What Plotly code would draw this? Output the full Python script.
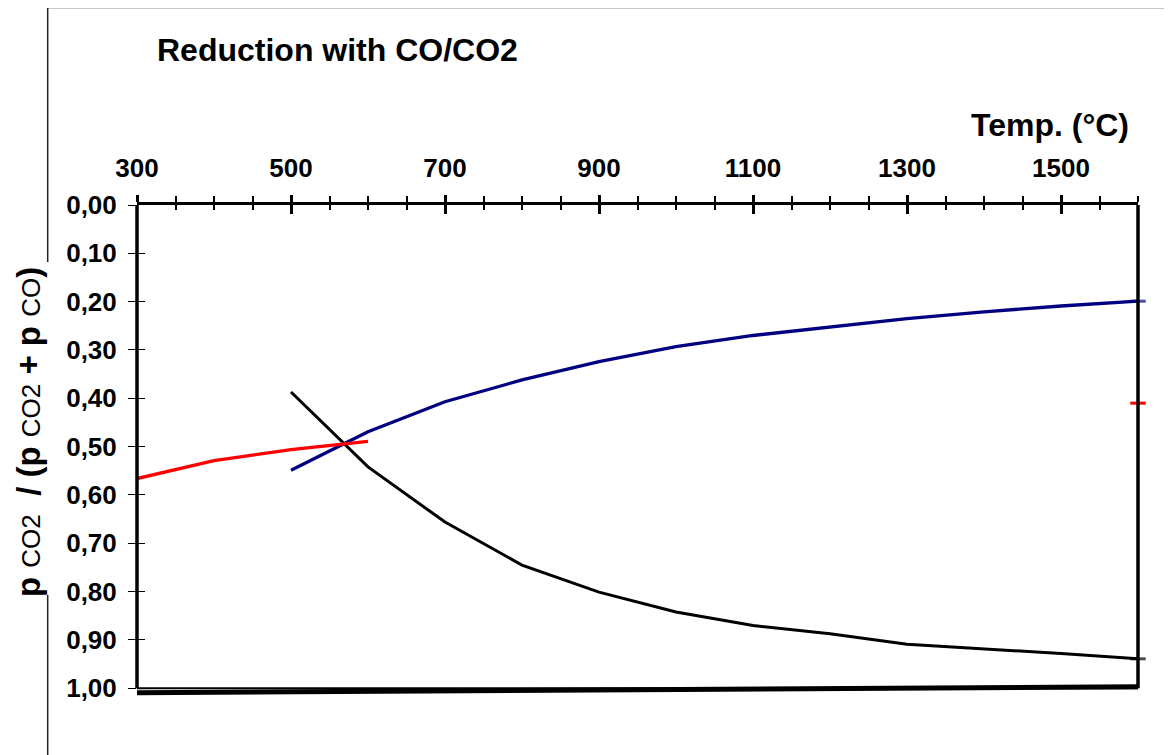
import plotly.graph_objects as go

# ---- data ----
temp_fe3o4_feo = [500, 600, 700, 800, 900, 1000, 1100, 1200, 1300, 1400, 1500, 1600]
ratio_black = [0.387, 0.542, 0.656, 0.745, 0.801, 0.842, 0.870, 0.887, 0.909, 0.918, 0.928, 0.939]
ratio_blue = [0.549, 0.469, 0.407, 0.362, 0.324, 0.293, 0.270, 0.252, 0.235, 0.221, 0.209, 0.199]

temp_red = [300, 400, 500, 600]
ratio_red = [0.566, 0.529, 0.506, 0.489]

temp_red_point = [1600]
ratio_red_point = [0.410]

temp_bottom = [300, 800, 1600]
ratio_bottom = [1.009, 1.004, 0.997]

x_tick_vals = [300, 500, 700, 900, 1100, 1300, 1500]
x_tick_text = ["300", "500", "700", "900", "1100", "1300", "1500"]
y_tick_vals = [0.0, 0.1, 0.2, 0.3, 0.4, 0.5, 0.6, 0.7, 0.8, 0.9, 1.0]
y_tick_text = ["0,00", "0,10", "0,20", "0,30", "0,40", "0,50", "0,60", "0,70", "0,80", "0,90", "1,00"]

FONT = "Arial, 'Liberation Sans', sans-serif"
X_RANGE = [300, 1600]
Y_RANGE = [1.018, 0]

# the page body adds an 8px offset, so the figure is 8px smaller than the window
OFF = 8
W, H = 1172 - OFF, 755 - OFF
ML, MT, MR = 137 - OFF, 205 - OFF, 34
PW = W - ML - MR
PH = 492
MB = H - MT - PH

fig = go.Figure()

def end_marker(n, color):
    sizes = [0] * (n - 1) + [11]
    return dict(symbol="line-ew", size=sizes, line=dict(color=color, width=3), color=color)

fig.add_trace(go.Scatter(x=temp_bottom, y=ratio_bottom, mode="lines",
                         line=dict(color="black", width=5), showlegend=False, hoverinfo="skip"))
fig.add_trace(go.Scatter(x=temp_fe3o4_feo, y=ratio_black, mode="lines+markers",
                         line=dict(color="black", width=3), marker=end_marker(len(temp_fe3o4_feo), "black"),
                         showlegend=False, cliponaxis=False))
fig.add_trace(go.Scatter(x=temp_fe3o4_feo, y=ratio_blue, mode="lines+markers",
                         line=dict(color="#000080", width=3.3), marker=end_marker(len(temp_fe3o4_feo), "#000080"),
                         showlegend=False, cliponaxis=False))
fig.add_trace(go.Scatter(x=temp_red, y=ratio_red, mode="lines",
                         line=dict(color="#FF0000", width=3.3), showlegend=False))
fig.add_trace(go.Scatter(x=temp_red_point, y=ratio_red_point, mode="markers",
                         marker=dict(symbol="line-ew", size=11, line=dict(color="#FF0000", width=3)),
                         showlegend=False, cliponaxis=False))
# helper trace for overlay axes (inside half of crossing ticks)
fig.add_trace(go.Scatter(x=[None], y=[None], xaxis="x2", yaxis="y2", showlegend=False, hoverinfo="skip"))

tickfont = dict(family=FONT, size=26, color="black", weight="bold")

fig.update_layout(
    width=W, height=H,
    margin=dict(l=ML, r=MR, t=MT, b=MB),
    paper_bgcolor="white", plot_bgcolor="white",
    showlegend=False,
    xaxis=dict(range=X_RANGE, side="top", tickmode="array", tickvals=x_tick_vals, ticktext=x_tick_text,
               ticks="outside", ticklen=7, tickwidth=3, tickcolor="black",
               showline=True, linewidth=3, linecolor="black", showgrid=False, zeroline=False,
               minor=dict(ticks="outside", ticklen=6, tickwidth=2, tickcolor="black", dtick=50, tick0=300, showgrid=False),
               tickfont=tickfont, ticklabelstandoff=8),
    xaxis2=dict(range=X_RANGE, overlaying="x", side="top", anchor="y2", tickmode="array", tickvals=x_tick_vals,
                ticks="inside", ticklen=9, tickwidth=3, tickcolor="black", showticklabels=False,
                showline=False, showgrid=False, zeroline=False,
                minor=dict(ticks="inside", ticklen=5, tickwidth=2, tickcolor="black", dtick=50, tick0=300, showgrid=False)),
    yaxis=dict(range=Y_RANGE, tickmode="array", tickvals=y_tick_vals, ticktext=y_tick_text,
               ticks="outside", ticklen=8, tickwidth=1, tickcolor="black",
               showline=False, showgrid=False, zeroline=False, tickfont=tickfont, ticklabelstandoff=6),
    yaxis2=dict(range=Y_RANGE, overlaying="y", side="left", anchor="x2", tickmode="array", tickvals=y_tick_vals,
                ticks="inside", ticklen=8, tickwidth=1, tickcolor="black", showticklabels=False,
                showline=False, showgrid=False, zeroline=False),
)

shapes = []
# plot box (axis lines) – in axis coordinates
shapes.append(dict(type="line", xref="x domain", yref="y", x0=0, x1=0, y0=0, y1=1,
                   line=dict(color="black", width=3.5)))
shapes.append(dict(type="line", xref="x domain", yref="y", x0=1, x1=1, y0=0, y1=1,
                   line=dict(color="black", width=3.5)))
shapes.append(dict(type="line", xref="x domain", yref="y", x0=0, x1=1, y0=1, y1=1,
                   line=dict(color="black", width=2)))

# outer chart frame (paper coords, from window pixel positions)
def px_x(px):
    return (px - OFF - ML) / float(PW)
def px_y(py):
    return 1 - (py - OFF - MT) / float(PH)
fx = px_x(47.7)
shapes.append(dict(type="line", xref="paper", yref="paper", x0=fx, x1=px_x(1180), y0=px_y(7.5), y1=px_y(7.5),
                   line=dict(color="#222", width=1.5)))
shapes.append(dict(type="line", xref="paper", yref="paper", x0=fx, x1=fx, y0=px_y(7.5), y1=px_y(262),
                   line=dict(color="#222", width=1.5)))
shapes.append(dict(type="line", xref="paper", yref="paper", x0=fx, x1=fx, y0=px_y(595), y1=px_y(770),
                   line=dict(color="#222", width=1.5)))
fig.update_layout(shapes=shapes)

sub = "<span style='font-size:26px;font-weight:normal'>%s</span>"
ytitle = ("p " + sub % "CO2" + "&nbsp;&nbsp;/ (p " + sub % "CO2" + " + p " + sub % "CO" + ")")

fig.update_layout(annotations=[
    dict(text="Reduction with CO/CO2", xref="paper", yref="paper", x=px_x(155), y=px_y(50),
         xanchor="left", yanchor="middle", showarrow=False,
         font=dict(family=FONT, size=32, color="black", weight="bold")),
    dict(text="Temp. (°C)", xref="paper", yref="paper", x=px_x(1131), y=px_y(125),
         xanchor="right", yanchor="middle", showarrow=False,
         font=dict(family=FONT, size=32, color="black", weight="bold")),
    dict(text=ytitle, xref="paper", yref="paper", x=px_x(28), y=px_y(432), textangle=-90,
         xanchor="center", yanchor="middle", showarrow=False, borderpad=0,
         font=dict(family=FONT, size=33, color="black", weight="bold")),
])

fig.write_html("out.html")
